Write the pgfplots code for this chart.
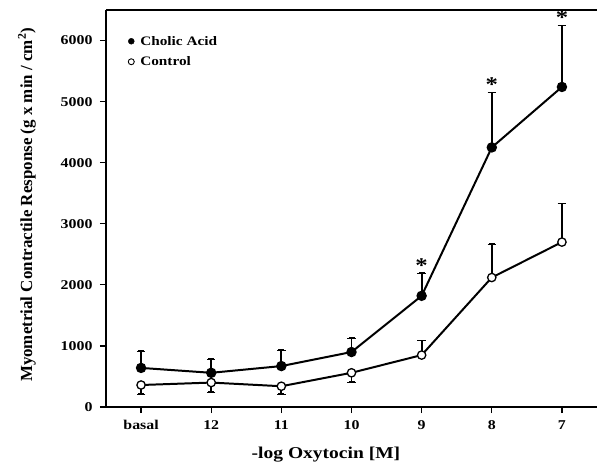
\documentclass[border=0pt]{standalone}
\usepackage{fontspec}
\setmainfont{Liberation Serif}[FakeStretch=1.18]
\newfontfamily\ylabfont{Liberation Serif}
\usepackage{pgfplots}
\pgfplotsset{compat=1.18}

\begin{document}
\begin{tikzpicture}
\begin{axis}[
    at={(0,0)}, anchor=south west,
    scale only axis, width=491bp, height=397bp,
    xmin=-0.5, xmax=6.5, ymin=0, ymax=6500,
    axis x line*=bottom, axis y line*=left,
    axis line style={line width=1.8pt},
    xtick={0,...,6}, xticklabels={basal,12,11,10,9,8,7},
    ytick={0,1000,...,6000},
    tick align=outside, major tick length=6bp,
    tick style={line width=1.3pt, black},
    /pgf/number format/assume math mode=true,
    /pgf/number format/1000 sep={},
    ticklabel style={font=\fontsize{13.5}{15}\selectfont\bfseries},
    yticklabel style={xshift=-4bp},
    xticklabel style={yshift=-4bp},
    xlabel={-log Oxytocin [M]},
    xlabel style={at={(axis description cs:0.448,-0.121)}, anchor=center,
        font=\fontsize{16.6}{18}\selectfont\bfseries},
    ylabel={Myometrial Contractile Response (g x min / cm\textsuperscript{2})},
    ylabel style={at={(axis description cs:-0.161,0.509)}, anchor=center,
        font=\ylabfont\fontsize{17}{19}\selectfont\bfseries},
    legend style={at={(axis description cs:0.045,0.94)}, anchor=north west,
        draw=none, fill=none, font=\fontsize{13}{15}\selectfont\bfseries,
        row sep=6bp, inner sep=0pt, nodes={inner sep=2bp}},
    legend cell align=left,
    legend image code/.code={\draw[#1] plot coordinates {(0.1cm,0cm)};},
    clip=false,
]
    % legend entries
    \addlegendimage{only marks, mark=*, mark size=3pt, black}
    \addlegendentry{\hspace{4bp}Cholic Acid}
    \addlegendimage{only marks, mark=*, mark size=3pt, black, mark options={fill=white, line width=0.9pt}}
    \addlegendentry{\hspace{4bp}Control}

    % error bar caps (mean + or - SEM)
    \addplot[only marks, mark=-, mark size=3bp, line width=1.5pt, black, forget plot]
    coordinates {
        (0,920) (1,790) (2,935) (3,1130) (4,2190) (5,5150) (6,6250)
        (0,210) (1,245) (2,210) (3,410) (4,1090) (5,2670) (6,3330)
    };

    % cholic acid
    \addplot[black, line width=2pt, mark=*, mark size=4.2pt, forget plot,
        error bars/.cd, y dir=plus, y explicit,
        error bar style={line width=1.8pt, black}]
    coordinates {
        (0,640) +- (0,280)
        (1,560) +- (0,230)
        (2,670) +- (0,265)
        (3,900) +- (0,230)
        (4,1820) +- (0,370)
        (5,4250) +- (0,900)
        (6,5240) +- (0,1010)
    };

    % control
    \addplot[black, line width=2pt, mark=*, mark size=4.2pt, forget plot,
        mark options={fill=white, line width=1.3pt},
        error bars/.cd, y dir=both, y explicit,
        error bar style={line width=1.8pt, black}]
    coordinates {
        (0,360) += (0,0) -= (0,150)
        (1,400) += (0,0) -= (0,155)
        (2,340) += (0,0) -= (0,130)
        (3,560) += (0,0) -= (0,150)
        (4,850) += (0,240) -= (0,0)
        (5,2120) += (0,550) -= (0,0)
        (6,2700) += (0,630) -= (0,0)
    };

    % significance marks
    \addplot[draw=none, mark=none, forget plot,
        nodes near coords={\fontsize{21}{21}\selectfont\bfseries *},
        every node near coord/.append style={anchor=south, inner sep=0pt, yshift=1bp}]
    coordinates {(4,2190) (5,5150) (6,6250)};

    \draw[line width=1.8pt] (rel axis cs:0,1) -- (rel axis cs:1,1);
\end{axis}
\pgfresetboundingbox
\useasboundingbox (-106bp,-59bp) rectangle (491bp,407bp);
\end{tikzpicture}
\end{document}
